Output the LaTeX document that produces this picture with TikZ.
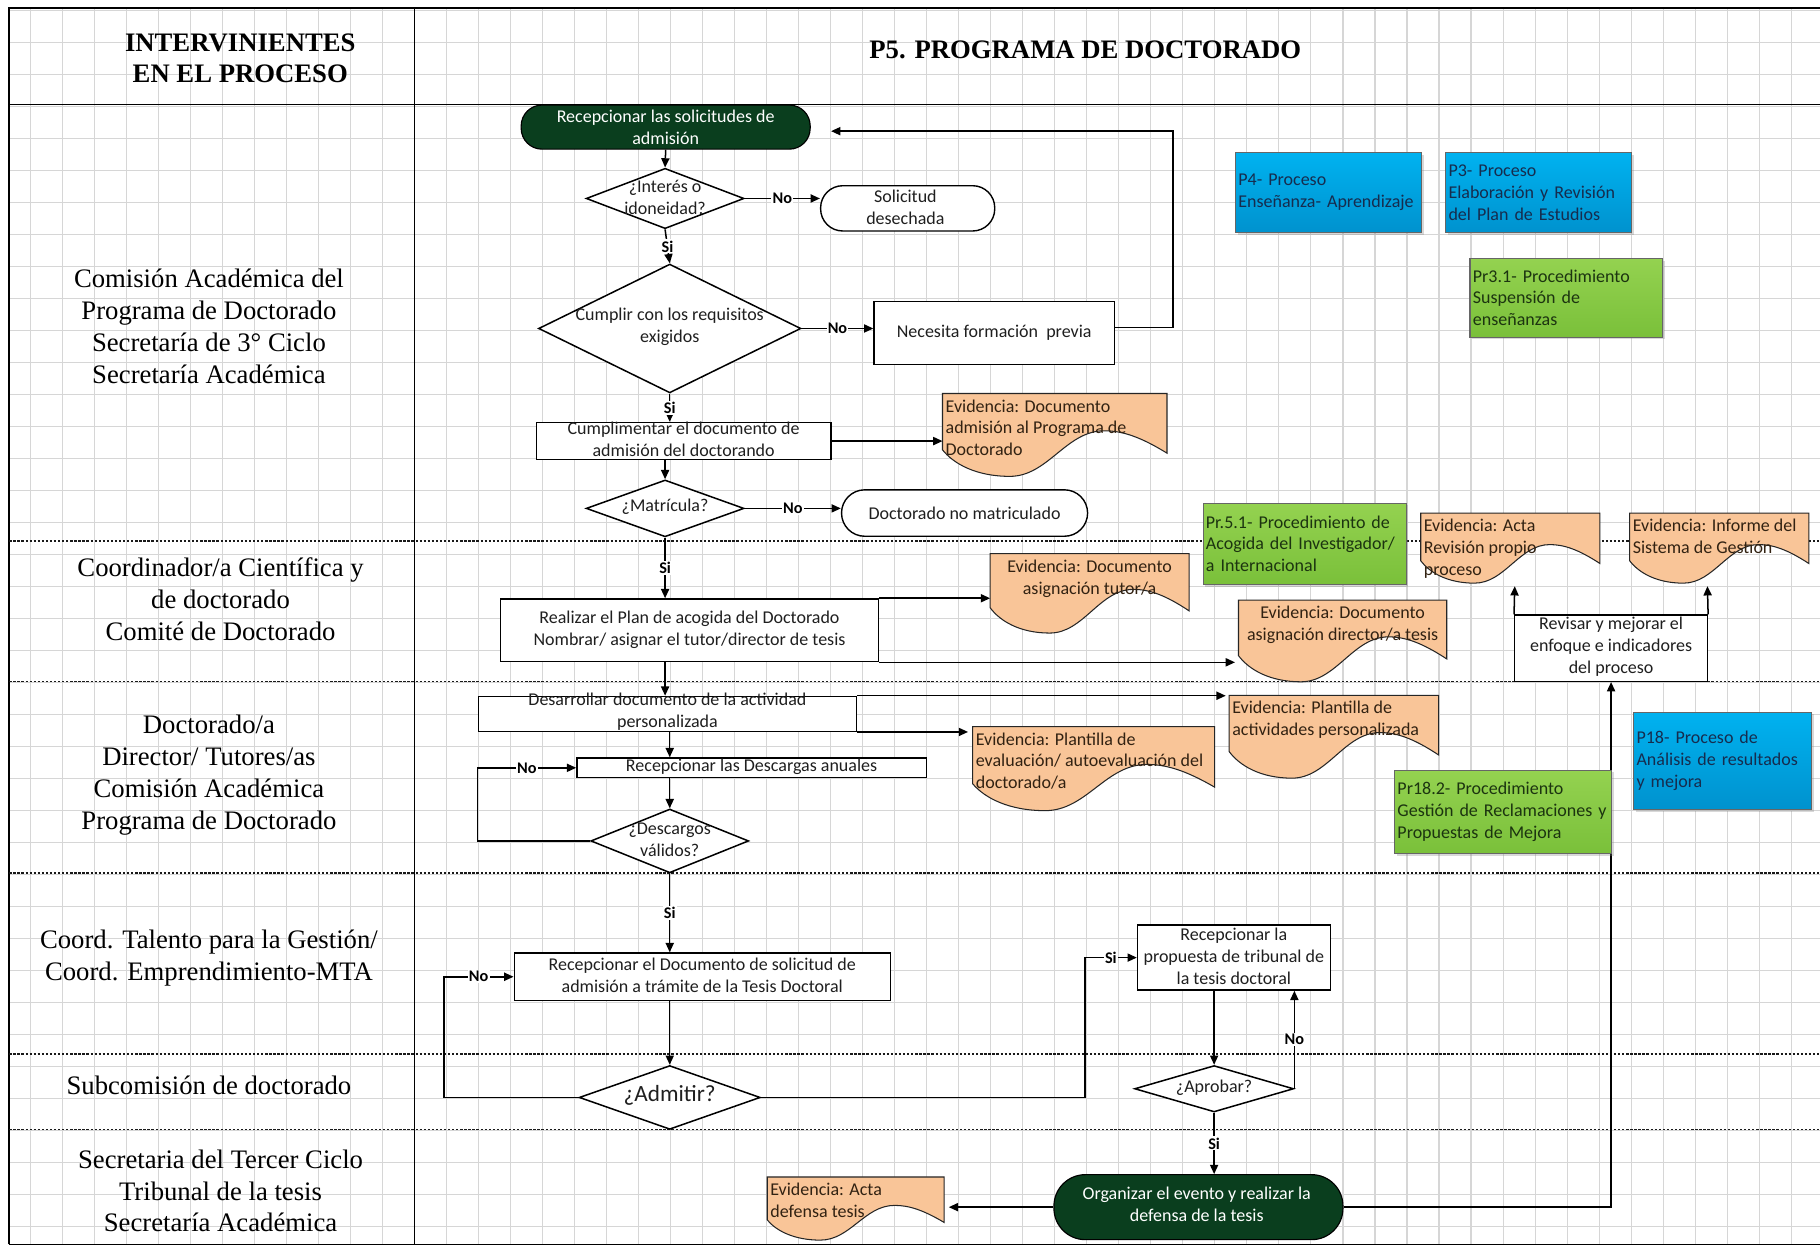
\documentclass[tikz,border=0pt]{standalone}
\usepackage{fontspec}
\setmainfont{Liberation Serif}
\newfontfamily\flowfont{Carlito}
\usetikzlibrary{arrows.meta,shapes.geometric,calc,shadows}

\definecolor{termgreen}{RGB}{10,62,30}
\definecolor{evpeach}{RGB}{249,197,152}
\definecolor{evtext}{RGB}{50,34,18}
\definecolor{procblue}{RGB}{0,178,240}
\definecolor{procblueb}{RGB}{0,146,206}
\definecolor{procgreen}{RGB}{148,210,80}
\definecolor{procgreenb}{RGB}{122,192,58}
\definecolor{gridgray}{RGB}{214,214,214}

\tikzset{
  flowtext/.style={font=\flowfont\fontsize{15.5}{18.8}\selectfont, text=black!88, align=center, inner sep=0pt},
  lanetext/.style={font=\fontsize{23}{27.5}\selectfont, align=center, inner sep=0pt},
  headtext/.style={font=\bfseries\fontsize{23}{27}\selectfont, align=center, inner sep=0pt},
  boxshape/.style={rectangle, draw=black, line width=1.2pt, fill=white, inner sep=0pt},
  decshape/.style={diamond, draw=black, line width=1.3pt, fill=white, inner sep=0pt},
  pillshape/.style={rectangle, draw=black, line width=1.2pt, fill=white, inner sep=0pt},
  startend/.style={rectangle, fill=termgreen, draw=black, line width=1pt, inner sep=0pt},
  arr/.style={draw=black, line width=1.3pt, -{Triangle[length=8pt,width=7pt]}},
  cond/.style={font=\flowfont\bfseries\fontsize{14}{16}\selectfont, fill=white, inner sep=1pt},
  docbox/.style={rectangle, inner sep=0pt, draw=none, anchor=north west},
  docfill/.style={fill=evpeach, draw=black!85, line width=0.9pt},
  evlabel/.style={font=\flowfont\fontsize{15.5}{18.8}\selectfont, text=evtext, align=left,
    inner xsep=2.5pt, inner ysep=5pt, anchor=north west},
  refbox/.style={rectangle, anchor=north west, align=left, inner xsep=2.5pt, inner ysep=0pt,
    line width=0.9pt, font=\flowfont\fontsize{15.5}{18.8}\selectfont,
    drop shadow={opacity=0.3, shadow xshift=2pt, shadow yshift=-2pt}},
  refblue/.style={refbox, top color=procblue, bottom color=procblueb, draw=black!60, text={rgb,255:red,22;green,44;blue,78}},
  refgreen/.style={refbox, top color=procgreen, bottom color=procgreenb, draw=black!60, text={rgb,255:red,28;green,52;blue,16}},
  gridline/.style={draw=gridgray, line width=0.9pt},
  laneline/.style={draw=black!90, line width=1.3pt, dash pattern=on 2pt off 1.5pt},
  frameline/.style={draw=black, line width=1.5pt}
}

% document shape with a wavy lower edge, fitted to the box of node #1
\newcommand\evdoc[1]{%
  \path[docfill] let \p1=(#1.north west), \p2=(#1.south east),
      \n1={\x2-\x1}, \n2={\y2-\y1} in
    (\x1,\y1) -- (\x2,\y1) -- (\x2,{\y1+0.72*\n2})
    .. controls ({\x1+0.88*\n1},{\y1+0.52*\n2}) and ({\x1+0.8*\n1},{\y1+0.45*\n2})
    .. ({\x1+0.72*\n1},{\y1+0.45*\n2})
    .. controls ({\x1+0.55*\n1},{\y1+0.45*\n2}) and ({\x1+0.47*\n1},{\y1+\n2})
    .. ({\x1+0.3*\n1},{\y1+\n2})
    .. controls ({\x1+0.15*\n1},{\y1+\n2}) and ({\x1+0.05*\n1},{\y1+0.85*\n2})
    .. (\x1,{\y1+0.68*\n2}) -- cycle;}

\begin{document}
\begin{tikzpicture}[x=1pt, y=-1pt]
\useasboundingbox (0,0) rectangle (1568,1073);
\fill[white] (0,0) rectangle (1568,1073);

% squared paper
\foreach \i in {0,...,55} {\draw[gridline] ({26.4+27.576*\i},7) -- ({26.4+27.576*\i},1073);}
\foreach \j in {0,...,38} {\draw[gridline, line width=1.2pt] (8,{9.2+27.57*\j}) -- (1568,{9.2+27.57*\j});}

% table frame and swimlanes
\draw[frameline] (8,1072) -- (8,7) -- (1568,7);
\draw[frameline] (8,90) -- (1568,90);
\draw[line width=1.2pt] (8,1072) -- (1568,1072);
\draw[line width=1.3pt] (357,7) -- (357,1073);
\foreach \y in {466,587,752,908,973} {\draw[laneline] (8,\y) -- (1568,\y);}

% headings
\node[headtext] (hdr-left) at (207,50) {INTERVINIENTES\\EN EL PROCESO};
\node[headtext] (hdr-title) at (935,43) {P5. PROGRAMA DE DOCTORADO};

% participants
\node[lanetext] (lane1) at (180,281) {Comisión Académica del\\Programa de Doctorado\\Secretaría de 3° Ciclo\\Secretaría Académica};
\node[lanetext] (lane2) at (190,516) {Coordinador/a Científica y\\de doctorado\\Comité de Doctorado};
\node[lanetext] (lane3) at (180,668) {Doctorado/a\\Director/ Tutores/as\\Comisión Académica\\Programa de Doctorado};
\node[lanetext] (lane4) at (180,825) {Coord. Talento para la Gestión/\\Coord. Emprendimiento-MTA};
\node[lanetext] (lane5) at (180,935) {Subcomisión de doctorado};
\node[lanetext] (lane6) at (190,1026) {Secretaria del Tercer Ciclo\\Tribunal de la tesis\\Secretaría Académica};

% ---------- process shapes ----------
\node[startend, minimum width=249pt, minimum height=38pt, rounded corners=18pt] (start) at (573.5,109.5) {};
\node[flowtext, text=white] (start-t) at (start.center) {Recepcionar las solicitudes de\\admisión};

\node[decshape, minimum width=136pt, minimum height=52pt] (d1) at (573,171) {};
\node[flowtext] (d1-t) at (573,170) {¿Interés o\\idoneidad?};

\node[pillshape, minimum width=150pt, minimum height=39pt, rounded corners=19pt] (sol) at (782,179.5) {};
\node[flowtext] (sol-t) at (780,178.5) {Solicitud\\desechada};

\node[decshape, minimum width=226pt, minimum height=111pt] (d2) at (577,283) {};
\node[flowtext] (d2-t) at (577,281.5) {Cumplir con los requisitos\\exigidos};

\node[boxshape, minimum width=207pt, minimum height=54pt] (nec) at (856.5,287) {};
\node[flowtext] (nec-t) at (nec.center) {Necesita formación~ previa};
\coordinate (loopend) at (716,113);

\node[boxshape, minimum width=254pt, minimum height=32pt] (cump) at (589,380) {};
\node[flowtext] (cump-t) at (589,378.5) {Cumplimentar el documento de\\admisión del doctorando};

\node[decshape, minimum width=136pt, minimum height=49pt] (d3) at (573,438) {};
\node[flowtext] (d3-t) at (573,437) {¿Matrícula?};

\node[pillshape, minimum width=212pt, minimum height=40pt, rounded corners=20pt] (nomat) at (831,442) {};
\node[flowtext] (nomat-t) at (nomat.center) {Doctorado no matriculado};

\node[boxshape, minimum width=326pt, minimum height=54pt] (plan) at (594,543) {};
\node[flowtext] (plan-t) at (594,542.5) {Realizar el Plan de acogida del Doctorado\\Nombrar/ asignar el tutor/director de tesis};

\node[boxshape, minimum width=326pt, minimum height=30pt] (des) at (575,615) {};
\node[flowtext] (des-t) at (575,613) {Desarrollar documento de la actividad\\personalizada};

\node[boxshape, minimum width=301pt, minimum height=17pt] (dca) at (647.5,661.5) {};
\node[flowtext] (dca-t) at (647.5,661) {Recepcionar las Descargas anuales};

\node[decshape, minimum width=136pt, minimum height=55pt] (d4) at (577,724.5) {};
\node[flowtext] (d4-t) at (577,723.5) {¿Descargos\\válidos?};

\node[boxshape, minimum width=324pt, minimum height=41pt] (rdoc) at (605,841.5) {};
\node[flowtext] (rdoc-t) at (605,840.5) {Recepcionar el Documento de solicitud de\\admisión a trámite de la Tesis Doctoral};

\node[decshape, minimum width=156pt, minimum height=55pt] (d5) at (577,945.5) {};
\node[flowtext, font=\flowfont\fontsize{20}{22}\selectfont] (d5-t) at (577,944) {¿Admitir?};

\node[boxshape, minimum width=166pt, minimum height=56pt] (rprop) at (1063,825) {};
\node[flowtext] (rprop-t) at (1063,824) {Recepcionar la\\propuesta de tribunal de\\la tesis doctoral};

\node[decshape, minimum width=137pt, minimum height=40pt] (d6) at (1046,938) {};
\node[flowtext] (d6-t) at (1046,937) {¿Aprobar?};

\node[startend, minimum width=249pt, minimum height=56pt, rounded corners=27pt] (org) at (1032.5,1040) {};
\node[flowtext, text=white] (org-t) at (1031,1037.5) {Organizar el evento y realizar la\\defensa de la tesis};

\node[boxshape, minimum width=166pt, minimum height=57pt] (rev) at (1388,558.5) {};
\node[flowtext] (rev-t) at (1388,557) {Revisar y mejorar el\\enfoque e indicadores\\del proceso};
\coordinate (ev7tip) at (1305,505);
\coordinate (ev8tip) at (1471,505);

% ---------- evidence documents ----------
\node[docbox, minimum width=193pt, minimum height=71pt] (ev1) at (812,339) {};
\evdoc{ev1}
\node[evlabel] (ev1-t) at (ev1.north west) {Evidencia: Documento\\admisión al Programa de\\Doctorado};

\node[docbox, minimum width=171pt, minimum height=68pt] (ev2) at (853,477) {};
\evdoc{ev2}
\node[evlabel, anchor=north, align=center] (ev2-t) at (ev2.north) {Evidencia: Documento\\asignación tutor/a};

\node[docbox, minimum width=179pt, minimum height=70pt] (ev3) at (1067,517) {};
\evdoc{ev3}
\node[evlabel, anchor=north, align=center] (ev3-t) at (ev3.north) {Evidencia: Documento\\asignación director/a tesis};

\node[docbox, minimum width=180pt, minimum height=71pt] (ev4) at (1059,599) {};
\evdoc{ev4}
\node[evlabel] (ev4-t) at (ev4.north west) {Evidencia: Plantilla de\\actividades personalizada};

\node[docbox, minimum width=208pt, minimum height=72pt] (ev5) at (838,626) {};
\evdoc{ev5}
\node[evlabel] (ev5-t) at (ev5.north west) {Evidencia: Plantilla de\\evaluación/ autoevaluación del\\doctorado/a};

\node[docbox, minimum width=152pt, minimum height=54pt] (ev6) at (661,1014) {};
\evdoc{ev6}
\node[evlabel] (ev6-t) at (ev6.north west) {Evidencia: Acta\\defensa tesis};

\node[docbox, minimum width=154pt, minimum height=60pt] (ev7) at (1224,442) {};
\evdoc{ev7}
\node[evlabel] (ev7-t) at (ev7.north west) {Evidencia: Acta\\Revisión propio\\proceso};

\node[docbox, minimum width=154pt, minimum height=60pt] (ev8) at (1404,442) {};
\evdoc{ev8}
\node[evlabel] (ev8-t) at (ev8.north west) {Evidencia: Informe del\\Sistema de Gestión};

% ---------- connectors ----------
\draw[arr] (start.south) -- (d1.north);
\draw[arr] (d1.east) -- node[cond] {No} (d1.east -| sol.west);
\draw[arr] (d1.south) -- node[cond] {Si} (d2.north);
\draw[arr] (d2.east) -- node[cond] {No} (d2.east -| nec.west);
\draw[arr] ($(nec.east)+(0,-5)$) -- ++(50,0) |- (loopend);
\draw[arr] (d2.south) -- node[cond] {Si} (d2.south |- cump.north);
\draw[arr] (cump.east) -- (cump.east -| ev1.west);
\draw[arr] (d3.north |- cump.south) -- (d3.north);
\draw[arr] (d3.east) -- node[cond] {No} (d3.east -| nomat.west);
\draw[arr] (d3.south) -- node[cond] {Si} (d3.south |- plan.north);
\draw[arr] (plan.north east) -- (plan.north east -| ev2.west);
\draw[arr] (plan.south east) -- ($(plan.south east -| ev3.west)+(-3,0)$);
\draw[arr] (d3.south |- plan.south) -- (d3.south |- des.north);
\draw[arr] (des.north east) -- ($(des.north east -| ev4.west)+(-3,0)$);
\draw[arr] (des.south east) -- ($(des.south east -| ev5.west)+(-4,0)$);
\draw[arr] (d4.north |- des.south) -- (d4.north |- dca.north);
\draw[arr] (d4.north |- dca.south) -- (d4.north);
\draw[arr] (d4.west) -- ++(-97,0) |- node[cond, pos=0.75] {No} (dca.west);
\draw[arr] (d4.south) -- node[cond] {Si} (d4.south |- rdoc.north);
\draw[arr] (d5.north |- rdoc.south) -- (d5.north);
\draw[arr] (d5.west) -- ++(-116,0) |- node[cond, pos=0.75] {No} (rdoc.west);
\draw[arr] (d5.east) -- ++(279,0) |- node[cond, pos=0.75] {Si} (rprop.west);
\draw[arr] (d6.north |- rprop.south) -- (d6.north);
\draw[arr] (d6.east) -- node[cond] {No} (d6.east |- rprop.south);
\draw[arr] (d6.south) -- node[cond] {Si} (d6.south |- org.north);
\draw[arr] (org.west) -- ($(org.west -| ev6.east)+(4,0)$);
\draw[arr] (org.east) -| (rev.south);
\draw[arr] (rev.north west) -- (ev7tip);
\draw[arr] (rev.north east) -- (ev8tip);

% ---------- related processes and procedures ----------
\node[refblue, minimum width=160pt, minimum height=69pt, text width=155pt] (p4) at (1064,131) {P4- Proceso\\Enseñanza- Aprendizaje};
\node[refblue, minimum width=160pt, minimum height=69pt, text width=155pt] (p3) at (1245,131) {P3- Proceso\\Elaboración y Revisión\\del Plan de Estudios};
\node[refgreen, minimum width=166pt, minimum height=68pt, text width=161pt] (pr31) at (1266,222) {Pr3.1- Procedimiento\\Suspensión de\\enseñanzas};
\node[refgreen, minimum width=175pt, minimum height=70pt, text width=170pt] (pr51) at (1036,433) {Pr.5.1- Procedimiento de\\Acogida del Investigador/\\a Internacional};
\node[refgreen, minimum width=187pt, minimum height=72pt, text width=182pt] (pr182) at (1201,663) {Pr18.2- Procedimiento\\Gestión de Reclamaciones y\\Propuestas de Mejora};
\node[refblue, minimum width=153pt, minimum height=84pt, text width=148pt] (p18) at (1407,613) {P18- Proceso de\\Análisis de resultados\\y mejora};

\end{tikzpicture}
\end{document}
